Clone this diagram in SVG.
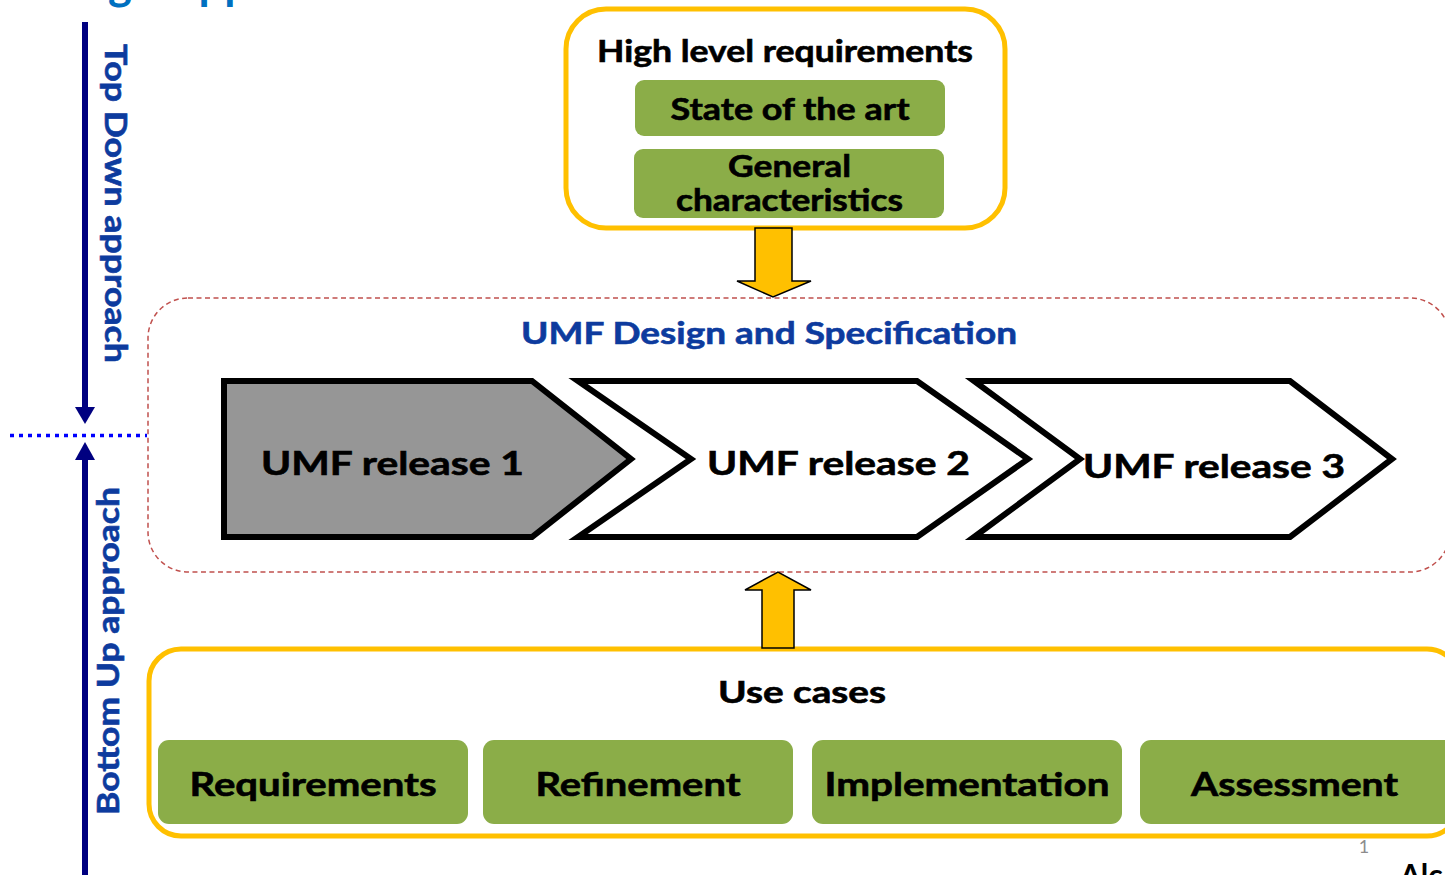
<svg xmlns="http://www.w3.org/2000/svg" width="1445" height="875" viewBox="0 0 1445 875">
  <style>
    text { font-family: Lato, "Open Sans", "Liberation Sans", sans-serif; font-weight: 700; }
    .lbl { fill: #000000; stroke: #000000; stroke-width: 0.6; text-anchor: middle; }
    .rel { fill: #000000; stroke: #000000; stroke-width: 0.6; font-size: 32px; }
    .green { fill: #8BAD48; }
    .frame { fill: none; stroke: #FFC000; stroke-width: 5; }
    .chev { stroke: #000000; stroke-width: 6; stroke-linejoin: miter; }
    .blockarrow { fill: #FFC000; stroke: #000000; stroke-width: 1.5; stroke-linejoin: miter; }
    .side { fill: #0D3B9E; stroke: #0D3B9E; stroke-width: 0.6; font-size: 30px; }
    .axis { stroke: #000080; stroke-width: 6; }
  </style>
  <rect width="1445" height="875" fill="#ffffff"/>

  <!-- slide title, mostly above the visible area -->
  <text x="18" y="-1" style="font-size:46px" fill="#0070C0" textLength="345" lengthAdjust="spacingAndGlyphs">Design Approach</text>

  <!-- left axis: top-down / bottom-up -->
  <g id="axis">
    <line class="axis" x1="85" y1="22" x2="85" y2="409"/>
    <polygon points="75,407 95,407 85,424" fill="#000080"/>
    <line class="axis" x1="85" y1="458" x2="85" y2="875"/>
    <polygon points="75,460 95,460 85,442" fill="#000080"/>
    <line x1="10" y1="435.5" x2="147" y2="435.5" stroke="#0000FF" stroke-width="3.5" stroke-dasharray="4 5"/>
    <text class="side" transform="translate(105,44) rotate(90)" textLength="319" lengthAdjust="spacingAndGlyphs">Top Down approach</text>
    <text class="side" transform="translate(119,815) rotate(-90)" textLength="328" lengthAdjust="spacingAndGlyphs">Bottom Up approach</text>
  </g>

  <!-- high level requirements -->
  <g id="high-level">
    <rect class="frame" x="566" y="9" width="439" height="219" rx="40"/>
    <text class="lbl" x="785" y="62" style="font-size:30px" textLength="376" lengthAdjust="spacingAndGlyphs">High level requirements</text>
  </g>
  <g id="state-of-art">
    <rect class="green" x="635" y="80" width="310" height="56" rx="9"/>
    <text class="lbl" x="790" y="120" style="font-size:30px" textLength="239" lengthAdjust="spacingAndGlyphs">State of the art</text>
  </g>
  <g id="general">
    <rect class="green" x="634" y="149" width="310" height="69" rx="9"/>
    <text class="lbl" x="789.5" y="177" style="font-size:30px" textLength="123" lengthAdjust="spacingAndGlyphs">General</text>
    <text class="lbl" x="789.5" y="211" style="font-size:30px" textLength="227" lengthAdjust="spacingAndGlyphs">characteristics</text>
  </g>

  <!-- design and specification area -->
  <g id="design-spec">
    <rect x="148" y="298" width="1302" height="274" rx="40" fill="none" stroke="#C0504D" stroke-width="1.5" stroke-dasharray="5 3.5"/>
    <text x="769" y="344" text-anchor="middle" fill="#0D3B9E" stroke="#0D3B9E" stroke-width="0.6" style="font-size:31px" textLength="496" lengthAdjust="spacingAndGlyphs">UMF Design and Specification</text>
  </g>

  <g id="release-1">
    <polygon class="chev" fill="#969696" points="224,381 532,381 631,459 532,537 224,537"/>
    <text class="rel" x="261" y="475" textLength="263" lengthAdjust="spacingAndGlyphs">UMF release 1</text>
  </g>
  <g id="release-2">
    <polygon class="chev" fill="#ffffff" points="578,381 917,381 1028,459 917,537 578,537 691,459"/>
    <text class="rel" x="707" y="475" textLength="263" lengthAdjust="spacingAndGlyphs">UMF release 2</text>
  </g>
  <g id="release-3">
    <polygon class="chev" fill="#ffffff" points="974,381 1290,381 1392,459 1290,537 974,537 1080,459"/>
    <text class="rel" x="1083" y="478" textLength="262" lengthAdjust="spacingAndGlyphs">UMF release 3</text>
  </g>

  <!-- use cases -->
  <g id="use-cases">
    <rect class="frame" x="149" y="649" width="1310" height="187" rx="32"/>
    <text class="lbl" x="802" y="703" style="font-size:30px" textLength="168" lengthAdjust="spacingAndGlyphs">Use cases</text>
  </g>
  <g id="requirements">
    <rect class="green" x="158" y="740" width="310" height="84" rx="11"/>
    <text class="lbl" x="313" y="796" style="font-size:32px" textLength="247" lengthAdjust="spacingAndGlyphs">Requirements</text>
  </g>
  <g id="refinement">
    <rect class="green" x="483" y="740" width="310" height="84" rx="11"/>
    <text class="lbl" x="638" y="796" style="font-size:32px" textLength="205" lengthAdjust="spacingAndGlyphs">Refinement</text>
  </g>
  <g id="implementation">
    <rect class="green" x="812" y="740" width="310" height="84" rx="11"/>
    <text class="lbl" x="967" y="796" style="font-size:32px" textLength="285" lengthAdjust="spacingAndGlyphs">Implementation</text>
  </g>
  <g id="assessment">
    <rect class="green" x="1140" y="740" width="320" height="84" rx="11"/>
    <text class="lbl" x="1294.5" y="796" style="font-size:32px" textLength="207" lengthAdjust="spacingAndGlyphs">Assessment</text>
  </g>

  <!-- flow arrows -->
  <g id="connectors">
    <polygon class="blockarrow" points="755,228 792,228 792,281 811,281 773,297 737,281 755,281"/>
    <polygon class="blockarrow" points="762,648 762,590 745,590 778,572 811,590 794,590 794,648"/>
  </g>

  <!-- footer -->
  <text x="1364" y="853" text-anchor="middle" fill="#8C8C8C" style="font-size:18px;font-weight:400">1</text>
  <text x="1400" y="886" fill="#000" style="font-size:30px">Alc</text>
</svg>
